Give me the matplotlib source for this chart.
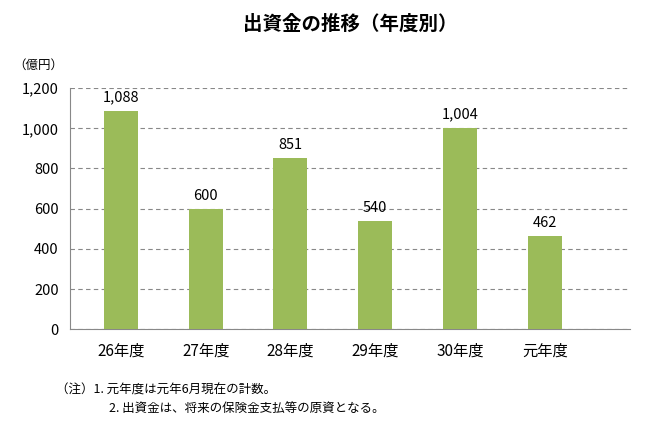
import matplotlib
matplotlib.use("Agg")
import matplotlib.pyplot as plt

plt.rcParams["font.family"] = "Noto Sans CJK JP"

# データ
categories = ["26年度", "27年度", "28年度", "29年度", "30年度", "元年度"]
values = [1088, 600, 851, 540, 1004, 462]
yticks = [0, 200, 400, 600, 800, 1000, 1200]

fig = plt.figure(figsize=(6.6, 4.32), dpi=100)
ax = fig.add_axes([0.106, 0.238, 0.848, 0.558])

x = range(len(categories))
ax.bar(x, values, width=0.4, color="#9BBB59", zorder=3)
for i, v in zip(x, values):
    ax.text(i, v + 30, f"{v:,}", ha="center", va="bottom", fontsize=10.5)

ax.set_ylim(0, 1200)
ax.set_xlim(-0.6, 6.0)
ax.set_yticks(yticks)
ax.set_yticklabels([f"{t:,}" for t in yticks], fontsize=10.5)
ax.set_xticks(list(x))
ax.set_xticklabels(categories, fontsize=11)
ax.tick_params(length=0)
ax.tick_params(axis="x", pad=10)
ax.tick_params(axis="y", pad=8)
ax.yaxis.grid(True, linestyle=(0, (4, 3)), color="#888888", linewidth=0.8, zorder=0)
for s in ["top", "right"]:
    ax.spines[s].set_visible(False)
ax.spines["left"].set_color("#888888")
ax.spines["bottom"].set_color("#888888")

fig.text(0.53, 0.945, "出資金の推移（年度別）", ha="center", va="center",
         fontsize=14, fontweight="bold")
fig.text(0.02, 0.85, "（億円）", fontsize=9, va="center")
fig.text(0.085, 0.098, "（注）1. 元年度は元年6月現在の計数。", fontsize=9, va="center")
fig.text(0.165, 0.055, "2. 出資金は、将来の保険金支払等の原資となる。", fontsize=9, va="center")

fig.savefig("out.png", dpi=100)
